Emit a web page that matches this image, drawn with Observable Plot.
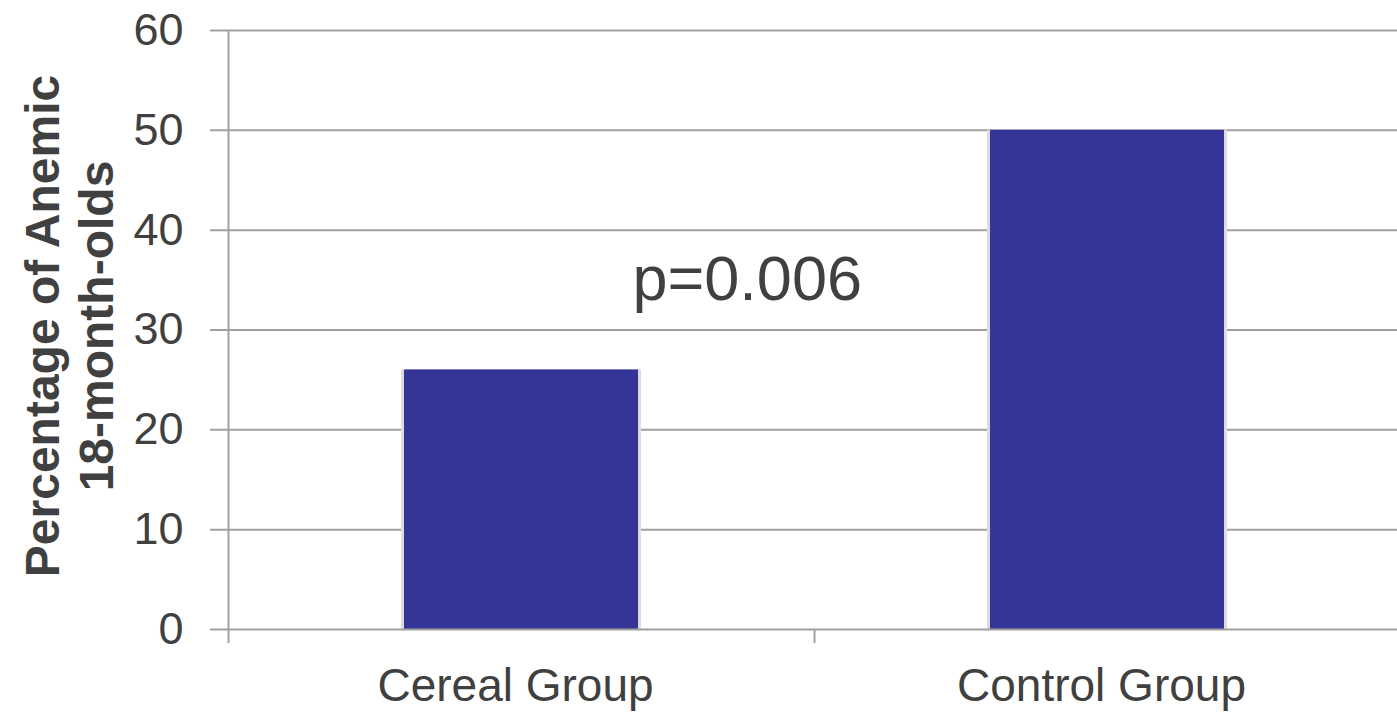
<!DOCTYPE html>
<html><head><meta charset="utf-8">
<script src="https://cdn.jsdelivr.net/npm/d3@7"></script>
<script src="https://cdn.jsdelivr.net/npm/@observablehq/plot@0.6"></script>
<style>html,body{margin:0;padding:0;background:#fff;overflow:hidden}</style>
</head><body><div id="chart"></div>
<script>
const categories = ["Cereal Group", "Control Group"];
const values = [26, 50];
const yTicks = [0, 10, 20, 30, 40, 50, 60];
const pLabel = "p=0.006";
const pLabelY = 35;
const yTitle = "Percentage of Anemic\n18-month-olds";

const data = categories.map((c, i) => ({group: c, value: values[i]}));
const width = 1397, height = 715, mL = 228, mR = -3, mT = 30, mB = 86;
const pi = 0.6, po = 0.3;
const step = (width - mL - mR) / (categories.length - pi + 2 * po);
const boundaries = categories.map((c, i) => ({group: c, top: i === 0 ? yTicks[yTicks.length - 1] : 0}));
const font = "'Liberation Sans', Arial, sans-serif";
const ink = "#404040", gridColor = "#a0a0a0";

const chart = Plot.plot({
  width, height, marginLeft: mL, marginRight: mR, marginTop: mT, marginBottom: mB,
  style: {fontFamily: font, background: "#fff", color: ink, overflow: "visible"},
  x: {domain: categories, paddingInner: pi, paddingOuter: po, label: null},
  y: {domain: [0, 60], label: null},
  marks: [
    Plot.ruleY(yTicks.filter(t => t !== 0), {stroke: gridColor, strokeWidth: 2, insetLeft: -18}),
    Plot.ruleX(boundaries, {x: "group", y1: "top", y2: 0, dx: -step / 2, insetBottom: -14, stroke: gridColor, strokeWidth: 2}),
    Plot.barY(data, {x: "group", y: "value", fill: "#dcdcdc", insetLeft: -3, insetRight: -3}),
    Plot.barY(data, {x: "group", y: "value", fill: "#353597"}),
    Plot.ruleY([0], {stroke: gridColor, strokeWidth: 2, insetLeft: -18}),
    Plot.axisY({ticks: yTicks, tickSize: 0, tickPadding: 45, fontSize: 45, label: null, fill: ink}),
    Plot.axisX({tickSize: 0, tickPadding: 39, fontSize: 46, label: null, dx: -6, fill: ink}),
    Plot.text([pLabel], {x: () => categories[0], y: () => pLabelY, text: d => d, textAnchor: "start", dx: 111, fontSize: 63, fill: ink}),
    Plot.text([yTitle], {frameAnchor: "left", rotate: -90, text: d => d, textAnchor: "middle", lineAnchor: "middle", fontSize: 48, fontWeight: "bold", lineHeight: 1.12, dx: -160, dy: -4, fill: ink})
  ]
});
document.getElementById("chart").appendChild(chart);
</script>
</body></html>
